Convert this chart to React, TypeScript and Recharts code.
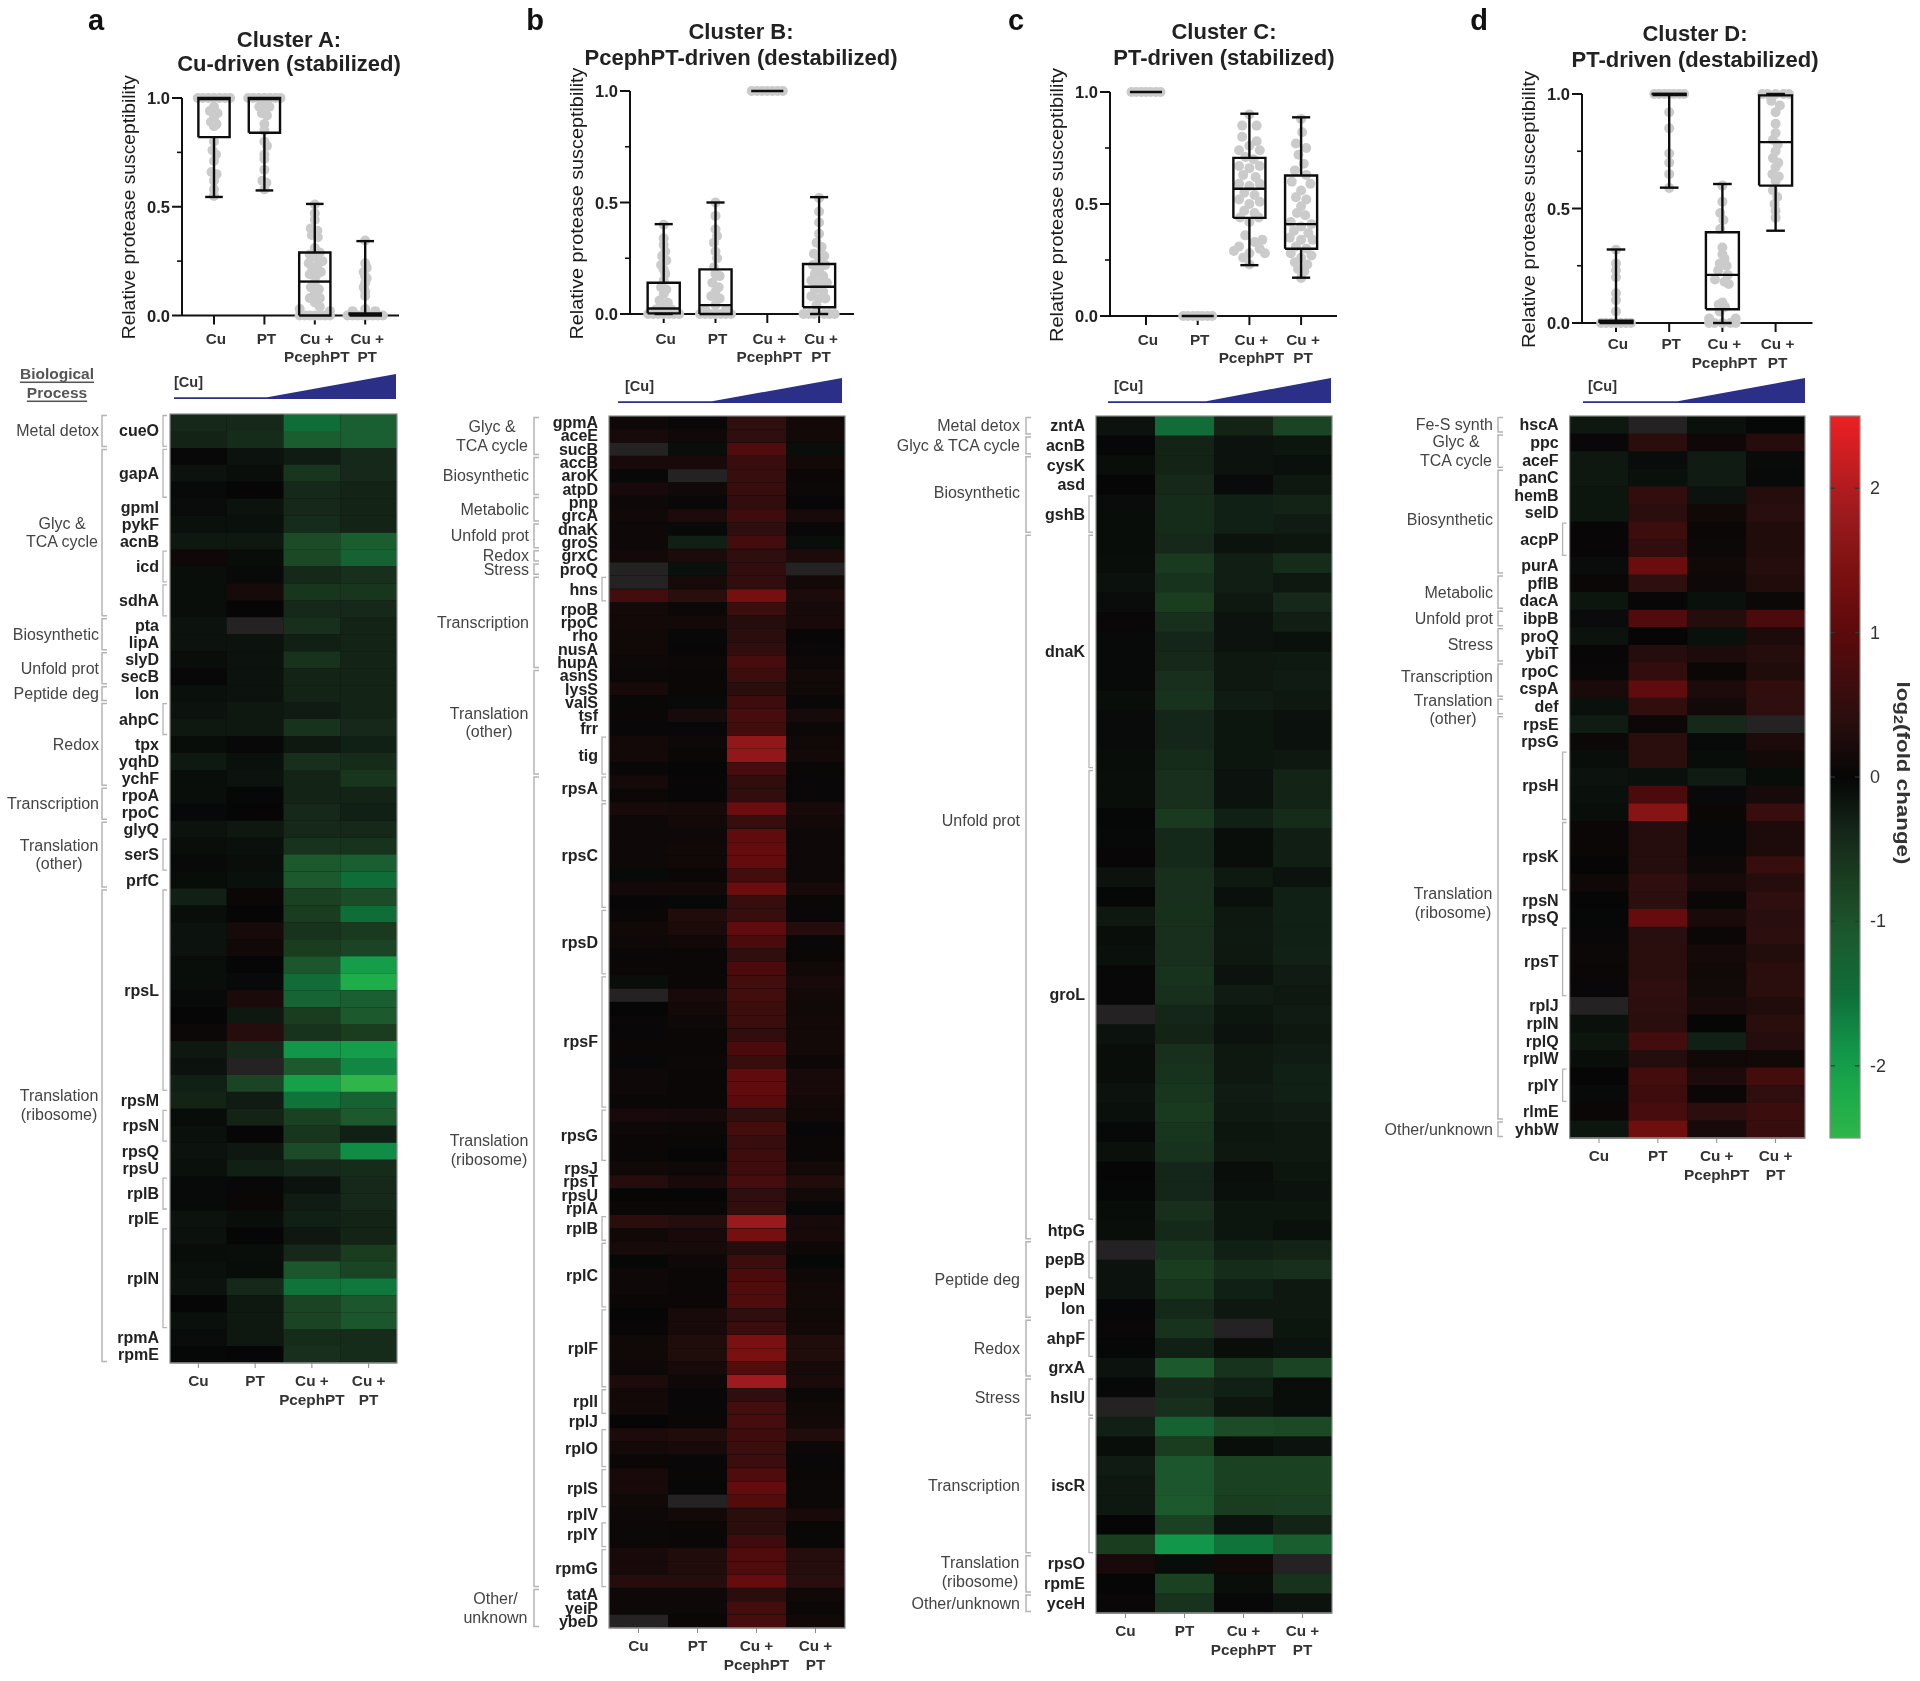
/** Four protease-susceptibility clusters: box plots above, log2 heat maps below, shared colour bar. */
import {
  Area,
  AreaChart,
  Bar,
  BarChart,
  Cell,
  Scatter,
  ScatterChart,
  XAxis,
  YAxis,
} from 'recharts';

type Group = [string, number];
type Row = [number | null, number | null, number | null, number | null];
type Box = [number, number, number, number, number]; // min, q1, median, q3, max
type Pt = [number, number]; // horizontal jitter, value

const TREATMENTS = [['Cu'], ['PT'], ['Cu +', 'PcephPT'], ['Cu +', 'PT']];

/* ---------- cluster A ---------- */
const A_GENES: Group[] = [
  ['cueO', 2], ['gapA', 3], ['gpmI', 1], ['pykF', 1], ['acnB', 1], ['icd', 2], ['sdhA', 2], ['pta', 1], ['lipA', 1],
  ['slyD', 1], ['secB', 1], ['lon', 1], ['ahpC', 2], ['tpx', 1], ['yqhD', 1], ['ychF', 1], ['rpoA', 1], ['rpoC', 1],
  ['glyQ', 1], ['serS', 2], ['prfC', 1], ['rpsL', 12], ['rpsM', 1], ['rpsN', 2], ['rpsQ', 1], ['rpsU', 1], ['rplB', 2],
  ['rplE', 1], ['rplN', 6], ['rpmA', 1], ['rpmE', 1],
];
const A_PROCESS: Group[] = [
  ['Metal detox', 2], ['Glyc &\nTCA cycle', 10], ['Biosynthetic', 2], ['Unfold prot', 2], ['Peptide deg', 1],
  ['Redox', 5], ['Transcription', 2], ['Translation\n(other)', 4], ['Translation\n(ribosome)', 28],
];
const A_VALUES: Row[] = [
  [-.4, -.4, -1.5, -1.2], [-.35, -.45, -1.15, -1.2], [-.02, -.15, -.25, -.4], [-.15, -.1, -.6, -.4],
  [-.05, 0, -.4, -.35], [-.07, -.15, -.4, -.35], [-.12, -.12, -.45, -.35], [-.2, -.2, -.9, -1.15],
  [.1, -.08, -.85, -1.25], [-.1, -.05, -.4, -.5], [-.1, .18, -.6, -.6], [-.1, 0, -.4, -.4],
  [-.15, null, -.5, -.35], [-.15, -.15, -.3, -.35], [-.1, -.15, -.55, -.35], [-.02, -.15, -.35, -.35],
  [-.12, -.15, -.35, -.35], [-.15, -.2, -.25, -.35], [-.2, -.2, -.55, -.4], [-.08, -.02, -.2, -.3],
  [-.22, -.12, -.5, -.45], [-.1, -.15, -.35, -.6], [-.1, -.01, -.35, -.35], [-.03, 0, -.4, -.3],
  [-.15, -.2, -.4, -.4], [-.1, -.12, -.55, -.55], [-.05, -.1, -1.1, -1.2], [-.08, -.12, -1.1, -1.5],
  [-.3, .05, -.75, -.9], [-.1, 0, -.7, -1.5], [-.15, .18, -.55, -.65], [-.15, .12, -.7, -.8],
  [-.1, 0, -1.05, -2], [-.1, -.05, -1.45, -2.25], [-.05, .22, -1.3, -1.2], [0, -.2, -.7, -1.1],
  [.08, .35, -.55, -.7], [-.2, -.4, -1.9, -2], [-.15, null, -1.1, -1.75], [-.3, -.8, -2.05, -2.5],
  [-.35, -.25, -1.55, -1.25], [-.08, -.35, -.75, -1.1], [-.12, 0, -.6, -.3], [-.15, -.2, -.9, -1.8],
  [-.12, -.3, -.4, -.45], [-.05, -.02, -.15, -.4], [-.05, .05, -.25, -.4], [-.15, -.1, -.3, -.35],
  [-.13, 0, -.2, -.35], [-.08, -.1, -.4, -.7], [-.12, -.08, -1.05, -.8], [-.15, -.4, -1.55, -1.6],
  [0, -.2, -.8, -1.05], [-.12, -.2, -.8, -1.05], [-.07, -.2, -.45, -.45], [-.01, 0, -.5, -.45],
];
const A_BOXES: Box[] = [
  [.545, .82, .995, 1, 1], [.575, .84, .995, 1, 1], [0, 0, .156, .29, .513], [0, 0, .005, .01, .342],
];
const A_SWARM: Pt[][] = [
  [[-.32, 1], [-.22, 1], [-.11, 1], [0, 1], [.11, 1], [.22, 1], [.32, 1], [0, .96], [-.08, .94], [.07, .93], [0, .91],
    [-.06, .89], [.05, .88], [0, .87], [0, .8], [-.03, .76], [.04, .74], [0, .71], [-.05, .66], [.05, .65], [0, .62], [0, .58], [0, .55]],
  [[-.32, 1], [-.22, 1], [-.11, 1], [0, 1], [.11, 1], [.22, 1], [.32, 1], [0, .97], [-.1, .96], [.1, .96], [-.05, .93],
    [.05, .92], [0, .88], [0, .85], [0, .8], [.05, .78], [0, .74], [0, .72], [0, .67], [-.04, .62], [.04, .61], [0, .58]],
  [[0, .51], [0, .47], [0, .44], [-.08, .4], [.05, .39], [-.06, .37], [.06, .36], [0, .31], [.1, .29], [-.1, .28], [0, .27],
    [.15, .25], [-.12, .24], [.05, .23], [-.05, .22], [.12, .2], [-.1, .19], [.02, .18], [0, .15], [-.08, .13], [.08, .12],
    [0, .1], [-.1, .08], [.1, .08], [0, .06], [-.3, .03], [.3, .02], [-.3, 0], [-.2, 0], [-.1, 0], [0, 0], [.1, 0], [.2, 0], [.3, 0], [.1, .04]],
  [[0, .345], [0, .24], [.03, .22], [-.03, .2], [0, .18], [.03, .17], [0, .15], [-.03, .13], [0, .11], [0, .09], [-.25, .02],
    [.2, .02], [0, .03], [-.35, 0], [-.25, 0], [-.15, 0], [-.05, 0], [.05, 0], [.15, 0], [.25, 0], [.35, 0]],
];

/* ---------- cluster B ---------- */
const B_GENES: Group[] = [
  ['gpmA', 1], ['aceE', 1], ['sucB', 1], ['accB', 1], ['aroK', 1], ['atpD', 1], ['pnp', 1], ['grcA', 1], ['dnaK', 1],
  ['groS', 1], ['grxC', 1], ['proQ', 1], ['hns', 2], ['rpoB', 1], ['rpoC', 1], ['rho', 1], ['nusA', 1], ['hupA', 1],
  ['asnS', 1], ['lysS', 1], ['valS', 1], ['tsf', 1], ['frr', 1], ['tig', 3], ['rpsA', 2], ['rpsC', 8], ['rpsD', 5],
  ['rpsF', 10], ['rpsG', 4], ['rpsJ', 1], ['rpsT', 1], ['rpsU', 1], ['rplA', 1], ['rplB', 2], ['rplC', 5], ['rplF', 6],
  ['rplI', 2], ['rplJ', 1], ['rplO', 3], ['rplS', 3], ['rplV', 1], ['rplY', 2], ['rpmG', 3], ['tatA', 1], ['yeiP', 1], ['ybeD', 1],
];
const B_PROCESS: Group[] = [
  ['Glyc &\nTCA cycle', 3], ['Biosynthetic', 3], ['Metabolic', 2], ['Unfold prot', 2], ['Redox', 1], ['Stress', 1],
  ['Transcription', 7], ['Translation\n(other)', 8], ['Translation\n(ribosome)', 61], ['Other/\nunknown', 3],
];
const B_VALUES: Row[] = [
  [.1, .03, .45, .15], [.2, .12, .45, .15], [null, -.1, .85, -.1], [.2, .2, .55, .15], [-.02, null, .55, .05],
  [.2, .12, .55, .08], [.1, .03, .5, .02], [.12, .25, .65, .2], [.1, -.05, .45, .03], [.1, -.3, .7, -.1],
  [.15, .25, .45, .25], [null, -.12, .5, null], [null, .18, .5, .15], [.7, .4, 1.35, .25], [.15, .08, .6, .18],
  [.15, .15, .35, .2], [.12, -.02, .4, .02], [.12, .02, .5, .03], [.1, .08, .75, .1], [.08, .07, .6, .15],
  [.2, .07, .4, .12], [.04, -.05, .65, .03], [.05, .18, .75, .18], [.03, .03, .7, .08], [.15, .1, 1.7, .12],
  [.15, .05, 1.7, .15], [.03, .01, .75, .04], [.17, .02, .5, .03], [.08, .02, .5, .03], [.2, .17, 1.2, .2],
  [.1, .15, .55, .15], [.1, .1, 1.05, .1], [.1, .12, 1.1, .1], [.1, .12, 1.1, .1], [-.05, .05, .7, .1],
  [.15, .15, 1.2, .2], [.02, -.03, .55, .04], [.05, .3, .55, .03], [.12, .22, 1.05, .35], [.1, .12, .8, .03],
  [.03, .05, .45, .05], [.05, .06, .8, .12], [-.1, .05, .7, .2], [null, .2, .7, .15], [0, .15, .6, .12],
  [.03, .1, .6, .15], [.03, .07, .5, .15], [.05, .05, .8, .15], [-.02, .08, .55, .08], [.1, .05, 1.05, .2],
  [.1, .05, 1.05, .2], [.07, .06, .95, .15], [.2, .17, .45, .12], [.1, .08, .7, .02], [.05, .04, .55, .07],
  [.05, 0, .65, .07], [.12, .1, .65, .15], [.35, .2, .75, .3], [0, 0, .45, .13], [.05, .04, .5, -.02],
  [.4, .35, 1.8, .2], [.12, .2, 1.35, .2], [.18, .18, .35, .1], [-.01, .1, .6, -.01], [.1, .07, .8, .1],
  [.1, .07, .85, .15], [.05, .07, .85, .15], [0, .2, .45, .12], [.02, .2, .6, .15], [.12, .3, 1.4, .3],
  [.12, .3, 1.4, .3], [.1, .2, .9, .18], [.25, .1, 1.85, .22], [.15, .03, .45, .08], [.15, .03, .7, .12],
  [0, .05, .75, .15], [.25, .3, .65, .3], [.15, .2, .6, .08], [.05, .03, .6, .03], [.2, .04, .85, .05],
  [.2, -.01, 1.1, .08], [.12, null, .9, .08], [.1, .15, .4, .2], [.08, .05, .4, .04], [.08, .05, .65, .04],
  [.2, .3, .85, .35], [.2, .3, .85, .35], [.35, .35, 1.15, .38], [.1, .1, .4, .12], [.1, .1, .7, .08], [null, .05, .75, .12],
];
const B_BOXES: Box[] = [
  [0, .003, .025, .14, .403], [0, 0, .04, .2, .5], [1, 1, 1, 1, 1], [0, .03, .122, .224, .524],
];
const B_SWARM: Pt[][] = [
  [[-.3, 0], [-.2, 0], [-.1, 0], [0, 0], [.1, 0], [.2, 0], [.3, 0], [0, .4], [0, .34], [0, .31], [.03, .28], [-.03, .26], [.05, .24],
    [-.05, .22], [0, .2], [.03, .18], [0, .15], [-.05, .12], [.05, .11], [0, .09], [-.08, .06], [.08, .05], [0, .03], [-.15, .02], [.15, .02]],
  [[-.3, 0], [-.2, 0], [-.1, 0], [0, 0], [.1, 0], [.2, 0], [.3, 0], [0, .5], [0, .44], [0, .38], [.03, .35], [-.03, .32], [0, .28],
    [.03, .25], [-.03, .21], [0, .18], [.08, .17], [-.06, .14], [.06, .12], [0, .1], [-.08, .08], [.08, .07], [0, .04], [-.2, .02], [.2, .02]],
  [[-.3, 1], [-.2, 1], [-.1, 1], [0, 1], [.1, 1], [.2, 1], [.3, 1]],
  [[0, .52], [0, .46], [0, .41], [0, .36], [-.05, .32], [.05, .3], [-.1, .27], [.1, .26], [0, .25], [-.12, .22], [.12, .22], [0, .2],
    [-.08, .18], [.08, .17], [-.15, .15], [.15, .14], [0, .14], [-.08, .11], [.08, .1], [-.15, .08], [.12, .07], [0, .07], [-.05, .04],
    [-.3, 0], [-.2, 0], [-.1, 0], [.1, 0], [.2, 0], [.3, 0]],
];

/* ---------- cluster C ---------- */
const C_GENES: Group[] = [
  ['zntA', 1], ['acnB', 1], ['cysK', 1], ['asd', 1], ['gshB', 2], ['dnaK', 12], ['groL', 23], ['htpG', 1], ['pepB', 2],
  ['pepN', 1], ['lon', 1], ['ahpF', 2], ['grxA', 1], ['hslU', 2], ['iscR', 7], ['rpsO', 1], ['rpmE', 1], ['yceH', 1],
];
const C_PROCESS: Group[] = [
  ['Metal detox', 1], ['Glyc & TCA cycle', 1], ['Biosynthetic', 4], ['Unfold prot', 36], ['Peptide deg', 4], ['Redox', 3],
  ['Stress', 2], ['Transcription', 7], ['Translation\n(ribosome)', 2], ['Other/unknown', 1],
];
const C_VALUES: Row[] = [
  [-.15, -1.45, -.35, -.8], [-.01, -.35, -.15, -.18], [-.1, -.35, -.15, -.12], [0, -.4, -.06, -.2], [-.07, -.45, -.3, -.35],
  [-.08, -.45, -.3, -.25], [-.08, -.4, -.15, -.18], [-.1, -.65, -.28, -.45], [-.13, -.55, -.28, -.2], [-.07, -.7, -.2, -.4],
  [.03, -.5, -.15, -.28], [-.05, -.38, -.15, -.12], [-.05, -.4, -.2, -.22], [-.05, -.5, -.2, -.25], [-.1, -.55, -.25, -.2],
  [-.06, -.38, -.18, -.13], [-.06, -.38, -.18, -.13], [-.08, -.45, -.18, -.2], [-.1, -.5, -.15, -.35], [-.1, -.5, -.15, -.35],
  [-.01, -.65, -.3, -.45], [-.03, -.42, -.1, -.28], [.02, -.42, -.1, -.28], [-.15, -.5, -.22, -.15], [-.01, -.5, -.12, -.3],
  [-.2, -.52, -.2, -.3], [-.1, -.5, -.22, -.3], [-.12, -.5, -.2, -.32], [-.02, -.55, -.15, -.25], [-.02, -.5, -.25, -.2],
  [null, -.38, -.18, -.25], [-.15, -.35, -.15, -.2], [-.1, -.5, -.2, -.25], [-.1, -.55, -.2, -.3], [-.15, -.6, -.25, -.3],
  [-.12, -.65, -.22, -.25], [-.03, -.6, -.18, -.2], [-.12, -.55, -.2, -.2], [0, -.38, -.1, -.18], [-.01, -.38, -.12, -.15],
  [-.08, -.5, -.18, -.18], [-.1, -.42, -.18, -.12], [null, -.55, -.3, -.35], [-.15, -.7, -.45, -.5], [-.15, -.6, -.3, -.2],
  [-.01, -.42, -.2, -.2], [.03, -.55, null, -.18], [-.01, -.3, -.1, -.15], [-.15, -1.1, -.55, -.8], [-.03, -.4, -.3, -.1],
  [null, -.5, -.18, -.1], [-.3, -1.25, -.9, -.85], [-.1, -.7, -.1, -.15], [-.25, -1.05, -.75, -.75], [-.2, -1.05, -.75, -.75],
  [-.2, -1.1, -.7, -.72], [0, -.75, -.15, -.35], [-.7, -1.9, -1.55, -1.15], [.2, -.08, .12, null], [0, -.75, -.1, -.55], [.03, -.55, -.02, -.15],
];
const C_BOXES: Box[] = [
  [1, 1, 1, 1, 1], [0, 0, 0, 0, 0], [.227, .438, .568, .706, .903], [.171, .3, .41, .627, .887],
];
const C_SWARM: Pt[][] = [
  [[-.28, 1], [-.19, 1], [-.09, 1], [0, 1], [.09, 1], [.19, 1], [.28, 1]],
  [[-.28, 0], [-.19, 0], [-.09, 0], [0, 0], [.09, 0], [.19, 0], [.28, 0]],
  [[0, .9], [-.14, .85], [.14, .85], [-.14, .8], [.14, .78], [0, .76], [-.2, .74], [.2, .74], [-.08, .71], [.08, .7], [-.2, .67], [.2, .67],
    [0, .66], [-.12, .63], [.12, .62], [-.2, .59], [.2, .59], [0, .58], [-.1, .55], [.1, .54], [-.2, .52], [.2, .51], [0, .5], [-.1, .47],
    [.1, .46], [-.18, .44], [.18, .44], [0, .42], [-.08, .36], [.25, .34], [.1, .33], [-.2, .31], [.2, .3], [-.3, .29], [.3, .28], [0, .28], [-.12, .26], [0, .23]],
  [[0, .88], [.02, .82], [-.1, .77], [.1, .75], [-.05, .72], [.05, .68], [-.12, .65], [.1, .63], [-.18, .6], [.18, .59], [0, .56], [-.1, .53], [.1, .52],
    [0, .49], [-.08, .46], [.08, .45], [-.2, .42], [.2, .41], [0, .4], [-.14, .38], [.14, .37], [-.22, .35], [.22, .34], [0, .34], [-.1, .31], [.1, .3],
    [-.2, .28], [.2, .27], [0, .26], [-.12, .24], [.12, .23], [-.06, .21], [.06, .2], [0, .17]],
];

/* ---------- cluster D ---------- */
const D_GENES: Group[] = [
  ['hscA', 1], ['ppc', 1], ['aceF', 1], ['panC', 1], ['hemB', 1], ['selD', 1], ['acpP', 2], ['purA', 1], ['pflB', 1],
  ['dacA', 1], ['ibpB', 1], ['proQ', 1], ['ybiT', 1], ['rpoC', 1], ['cspA', 1], ['def', 1], ['rpsE', 1], ['rpsG', 1],
  ['rpsH', 4], ['rpsK', 4], ['rpsN', 1], ['rpsQ', 1], ['rpsT', 4], ['rplJ', 1], ['rplN', 1], ['rplQ', 1], ['rplW', 1],
  ['rplY', 2], ['rlmE', 1], ['yhbW', 1],
];
const D_PROCESS: Group[] = [
  ['Fe-S synth', 1], ['Glyc &\nTCA cycle', 2], ['Biosynthetic', 6], ['Metabolic', 2], ['Unfold prot', 1], ['Stress', 2],
  ['Transcription', 2], ['Translation\n(other)', 1], ['Translation\n(ribosome)', 23], ['Other/unknown', 1],
];
const D_VALUES: Row[] = [
  [-.2, null, -.12, -.01], [.03, .4, .1, .35], [-.2, -.07, -.25, -.06], [-.2, -.12, -.25, -.05], [-.18, .5, -.15, .35],
  [-.18, .4, .12, .38], [.02, .6, .05, .3], [.02, .5, .08, .3], [-.07, 1.2, .12, .35], [.06, .45, .1, .3],
  [-.18, .02, -.12, .08], [-.07, .85, .35, .8], [-.15, 0, -.12, .25], [.02, .35, .25, .35], [.03, .5, .07, .3],
  [.22, 1.05, .25, .5], [-.12, .5, .13, .45], [-.25, .08, -.4, null], [.08, .4, -.05, .25], [-.1, .4, -.08, .13],
  [-.15, -.12, -.25, -.08], [-.12, .8, -.04, .18], [-.1, 1.55, .07, .55], [.06, .35, -.02, .25], [.06, .35, -.02, .25],
  [0, .35, .1, .55], [.1, .45, .2, .35], [0, .42, .07, .45], [-.01, 1.15, .22, .38], [.03, .38, .07, .42],
  [.08, .4, .17, .32], [.05, .4, .12, .4], [.03, .45, .13, .4], [null, .42, .2, .3], [-.12, .4, .01, .4],
  [-.18, .7, -.3, .35], [-.1, .35, .12, .12], [0, .7, .25, .7], [-.05, .65, .05, .45], [.07, .75, .42, .6], [-.18, 1.25, .2, .55],
];
const D_BOXES: Box[] = [
  [0, 0, .005, .01, .321], [.591, .995, 1, 1, 1], [0, .06, .21, .396, .607], [.403, .6, .79, .994, 1],
];
const D_SWARM: Pt[][] = [
  [[-.28, 0], [-.19, 0], [-.09, 0], [0, 0], [.09, 0], [.19, 0], [.28, 0], [0, .32], [0, .26], [0, .23], [0, .2], [0, .13], [0, .1], [0, .05]],
  [[-.28, 1], [-.19, 1], [-.09, 1], [0, 1], [.09, 1], [.19, 1], [.28, 1], [0, .92], [0, .85], [0, .74], [0, .7], [0, .65], [0, .59]],
  [[0, .6], [0, .53], [-.04, .48], [.02, .45], [-.04, .41], [0, .33], [0, .3], [.04, .28], [-.05, .26], [.08, .25], [-.08, .23], [.1, .21], [-.14, .19],
    [.04, .18], [.12, .17], [0, .09], [-.07, .08], [.05, .07], [-.05, .05], [-.25, 0], [-.25, .02], [-.15, 0], [0, 0], [.15, 0], [.25, 0], [.25, .02]],
  [[-.25, 1], [-.15, 1], [0, 1], [.15, 1], [.25, 1], [-.08, .97], [.08, .95], [0, .92], [0, .87], [0, .83], [-.05, .8], [.04, .78], [0, .75], [-.05, .72],
    [.05, .7], [0, .68], [-.06, .65], [.06, .64], [0, .62], [-.05, .58], [.03, .55], [-.02, .52], [0, .49], [0, .46]],
];

/* ---------- colour bar ---------- */
const COLOR_TICKS = [-2, -1, 0, 1, 2];
const COLOR_RANGE: [number, number] = [-2.5, 2.5];
const COLOR_STOPS: [number, number[]][] = [
  [-2.5, [48, 181, 74]], [-2.2, [28, 171, 74]], [-1.9, [18, 150, 74]], [-1.5, [15, 110, 56]], [-1.1, [28, 90, 46]],
  [-.7, [26, 61, 32]], [-.4, [21, 40, 26]], [0, [6, 6, 6]], [.4, [42, 14, 14]], [1, [92, 10, 12]], [1.4, [122, 16, 16]],
  [1.8, [153, 26, 29]], [2.5, [237, 32, 36]],
];
const MISSING_COLOR = '#252223';

function heatColor(v: number | null): string {
  if (v === null) return MISSING_COLOR;
  for (let i = 1; i < COLOR_STOPS.length; i++) {
    const [hi, cHi] = COLOR_STOPS[i];
    const [lo, cLo] = COLOR_STOPS[i - 1];
    if (v <= hi) {
      const t = (v - lo) / (hi - lo);
      const c = cLo.map((ch, k) => Math.round(ch + (cHi[k] - ch) * t));
      return `rgb(${c[0]},${c[1]},${c[2]})`;
    }
  }
  return `rgb(${COLOR_STOPS[COLOR_STOPS.length - 1][1].join(',')})`;
}

/* ---------- panel layout, in page pixels ---------- */
const PANELS = [
  {
    letter: 'a', letterX: 96, title: ['Cluster A:', 'Cu-driven (stabilized)'], titleX: 289, titleY: [39, 63],
    box: { axisX: 182, right: 399, cat0: 214, step: 50.4, y1: 97.5, y0: 315, labelY: [28, 46], titleLen: 264 },
    wedge: { left: 174, right: 396, top: 374, bottom: 399, cuX: 174, knee: 0.42 },
    heat: { originX: 0, left: 170, right: 397, top: 414, bottom: 1363 },
    bracket: { process: 102, label: 99 },
    genes: A_GENES, process: A_PROCESS, values: A_VALUES, boxes: A_BOXES, swarm: A_SWARM,
    nudge: { 'Translation\n(ribosome)': -21 } as Record<string, number>,
  },
  {
    letter: 'b', letterX: 535, title: ['Cluster B:', 'PcephPT-driven (destabilized)'], titleX: 741, titleY: [31, 57],
    box: { axisX: 630, right: 854, cat0: 663.7, step: 51.8, y1: 91, y0: 314, labelY: [30, 48], titleLen: 272 },
    wedge: { left: 618, right: 842, top: 378, bottom: 403, cuX: 625, knee: 0.42 },
    heat: { originX: 430, left: 609, right: 845, top: 416, bottom: 1628 },
    bracket: { process: 534, label: 529 },
    genes: B_GENES, process: B_PROCESS, values: B_VALUES, boxes: B_BOXES, swarm: B_SWARM,
    nudge: { 'Translation\n(ribosome)': -32 } as Record<string, number>,
  },
  {
    letter: 'c', letterX: 1016, title: ['Cluster C:', 'PT-driven (stabilized)'], titleX: 1224, titleY: [31, 57],
    box: { axisX: 1110, right: 1337, cat0: 1146, step: 51.7, y1: 92, y0: 316, labelY: [29, 47], titleLen: 274 },
    wedge: { left: 1108, right: 1331, top: 378, bottom: 403, cuX: 1114, knee: 0.44 },
    heat: { originX: 880, left: 1096, right: 1332, top: 416, bottom: 1613 },
    bracket: { process: 1026, label: 1020 },
    genes: C_GENES, process: C_PROCESS, values: C_VALUES, boxes: C_BOXES, swarm: C_SWARM,
    nudge: { 'Unfold prot': -66, Biosynthetic: -2, 'Translation\n(ribosome)': -2 } as Record<string, number>,
  },
  {
    letter: 'd', letterX: 1479, title: ['Cluster D:', 'PT-driven (destabilized)'], titleX: 1695, titleY: [33, 59],
    box: { axisX: 1582, right: 1812.5, cat0: 1616, step: 53.2, y1: 94, y0: 323, labelY: [26, 45], titleLen: 277 },
    wedge: { left: 1583, right: 1805, top: 378, bottom: 403, cuX: 1588, knee: 0.426 },
    heat: { originX: 1370, left: 1569.6, right: 1805, top: 416, bottom: 1138 },
    bracket: { process: 1498, label: 1493 },
    genes: D_GENES, process: D_PROCESS, values: D_VALUES, boxes: D_BOXES, swarm: D_SWARM,
    nudge: { 'Translation\n(ribosome)': -15, Transcription: -4, 'Translation\n(other)': 3, Biosynthetic: -2 } as Record<string, number>,
  },
];
type Panel = (typeof PANELS)[number];

const BLOCK_WIDTH: Record<string, number> = {
  'Glyc &\nTCA cycle': 74,
  'Translation\n(other)': 80,
  'Translation\n(ribosome)': 80,
  'Other/\nunknown': 67,
};
const CU_X = [0, 1];
const CU_LEVEL = [0.07, 1];
const BAR = { left: 1830, right: 1860, top: 416, bottom: 1138 };
const FONT = '"Liberation Sans", Arial, sans-serif';
const GRAY = '#b4b4b4';
const HEAT_PAD = 10;

function startsOf(groups: Group[]) {
  const map: Record<number, { label: string; count: number }> = {};
  let at = 0;
  for (const [label, count] of groups) {
    map[at] = { label, count };
    at += count;
  }
  return map;
}

function bracketPath(x: number, top: number, bottom: number, arm: number) {
  return `M${x + arm},${top}H${x}V${bottom}H${x + arm}`;
}

function makeRowTick(p: Panel) {
  const rowH = (p.heat.bottom - p.heat.top) / p.values.length;
  const genes = startsOf(p.genes);
  const processes = startsOf(p.process);
  return function RowTick(props: any) {
    const { index, x, y } = props;
    const top = y - rowH / 2;
    const gene = genes[index];
    const proc = processes[index];
    const toPage = (pageX: number) => pageX - p.heat.left + x;
    return (
      <g>
        {gene && (
          <text
            x={x - 11}
            y={top + (gene.count * rowH) / 2}
            textAnchor="end"
            dominantBaseline="central"
            fontSize={16}
            fontWeight={700}
            fill="#222"
          >
            {gene.label}
          </text>
        )}
        {gene && gene.count > 1 && (
          <path
            d={bracketPath(x - 7, top + 1.5, top + gene.count * rowH - 1.5, 4)}
            fill="none"
            stroke={GRAY}
            strokeWidth={1.3}
          />
        )}
        {proc && (
          <path
            d={bracketPath(toPage(p.bracket.process), top + 1.5, top + proc.count * rowH - 1.5, 5)}
            fill="none"
            stroke={GRAY}
            strokeWidth={1.5}
          />
        )}
        {proc &&
          proc.label.split('\n').map((line, i, lines) => {
            const center = top + (proc.count * rowH) / 2 + (p.nudge[proc.label] ?? 0);
            const block = BLOCK_WIDTH[proc.label];
            return (
              <text
                key={line}
                x={block ? toPage(p.bracket.label) - block / 2 : toPage(p.bracket.label)}
                y={center + (i - (lines.length - 1) / 2) * 18.5}
                textAnchor={block ? 'middle' : 'end'}
                dominantBaseline="central"
                fontSize={16}
                fill="#444"
              >
                {line}
              </text>
            );
          })}
      </g>
    );
  };
}

function TreatmentTick({ x, y, payload, gap, first, dx = 0 }: any) {
  const lines = TREATMENTS[payload.index ?? Math.floor(payload.value)];
  return (
    <g>
      {lines.map((line, i) => (
        <text key={line} x={x + dx} y={y + first + i * gap} textAnchor="middle" fontSize={15.3} fontWeight={700} fill="#333">
          {line}
        </text>
      ))}
    </g>
  );
}

function Heatmap({ p }: { p: Panel }) {
  const { originX, left, right, top, bottom } = p.heat;
  const rows = p.values.map((v, i) => ({ row: i, w0: 1, w1: 1, w2: 1, w3: 1, v }));
  const axisW = left - originX;
  const RowTick = makeRowTick(p);
  return (
    <div style={{ position: 'absolute', left: originX, top: top - HEAT_PAD }}>
      {/* dark backing so the sub-pixel seams between rows stay invisible */}
      <div
        style={{
          position: 'absolute',
          left: axisW,
          top: HEAT_PAD,
          width: right - left,
          height: bottom - top,
          background: '#0a0a0a',
        }}
      />
      <BarChart
        width={right - originX + 8}
        height={bottom - top + 52 + HEAT_PAD}
        data={rows}
        layout="vertical"
        barCategoryGap={0}
        margin={{ top: HEAT_PAD, right: 8, bottom: 0, left: 0 }}
      >
        <XAxis
          type="number"
          domain={[0, 4]}
          ticks={[0.5, 1.5, 2.5, 3.5]}
          interval={0}
          height={52}
          stroke="#8a8a8a"
          tickSize={5}
          tickMargin={0}
          tick={<TreatmentTick gap={19} first={18} />}
        />
        <YAxis
          type="category"
          dataKey="row"
          width={axisW}
          interval={0}
          axisLine={false}
          tickLine={false}
          tickSize={0}
          tickMargin={0}
          tick={RowTick}
        />
        {[0, 1, 2, 3].map((col) => (
          <Bar key={col} dataKey={`w${col}`} stackId="cells" isAnimationActive={false}>
            {rows.map((r) => (
              <Cell key={r.row} fill={heatColor(r.v[col])} />
            ))}
          </Bar>
        ))}
      </BarChart>
    </div>
  );
}

function ValueTick({ x, y, payload }: any) {
  const v = payload.value;
  const major = v === 0 || v === 0.5 || v === 1;
  return (
    <g>
      <line x1={x - (major ? 10 : 5)} x2={x} y1={y} y2={y} stroke="#111" strokeWidth={major ? 2 : 1.6} />
      {major && (
        <text x={x - 12} y={y} textAnchor="end" dominantBaseline="central" fontSize={16.5} fontWeight={700} fill="#222">
          {v.toFixed(1)}
        </text>
      )}
    </g>
  );
}

const dot = (props: any) => <circle cx={props.cx} cy={props.cy} r={5} fill="#cbcbcb" />;
const noDot = () => <g />;

/** Outline pieces of one box: frame, median, whiskers and caps, each a polyline in data units. */
function boxPieces([min, q1, med, q3, max]: Box, c: number) {
  const HALF = 0.31;
  const CAP = 0.175;
  const seg = (x1: number, y1: number, x2: number, y2: number) => [{ x: x1, y: y1 }, { x: x2, y: y2 }];
  const pieces = [seg(c - HALF, med, c + HALF, med)];
  if (q3 > q1) {
    pieces.push([
      { x: c - HALF, y: q1 },
      { x: c + HALF, y: q1 },
      { x: c + HALF, y: q3 },
      { x: c - HALF, y: q3 },
      { x: c - HALF, y: q1 },
    ]);
  }
  if (max > q3) pieces.push(seg(c, q3, c, max), seg(c - CAP, max, c + CAP, max));
  if (min < q1) pieces.push(seg(c, min, c, q1), seg(c - CAP, min, c + CAP, min));
  return pieces;
}

function BoxPlot({ p }: { p: Panel }) {
  const { axisX, right, cat0, step, y1, y0, labelY } = p.box;
  const axisW = 40;
  const topPad = 12;
  const domainX = [(axisX - cat0) / step, (right - cat0) / step];
  const points = p.swarm.flatMap((pts, cat) => pts.map(([dx, y]) => ({ x: cat + dx, y })));
  const pieces = p.boxes.flatMap((b, c) => boxPieces(b, c));
  return (
    <div style={{ position: 'absolute', left: axisX - axisW, top: y1 - topPad }}>
      <ScatterChart
        width={right - axisX + axisW + 6}
        height={y0 - y1 + topPad + 60}
        margin={{ top: topPad, right: 6, bottom: 0, left: 0 }}
      >
        <XAxis
          type="number"
          dataKey="x"
          domain={domainX}
          ticks={[0, 1, 2, 3]}
          interval={0}
          height={60}
          stroke="#111"
          strokeWidth={2}
          tickSize={9}
          tickMargin={0}
          tick={<TreatmentTick gap={labelY[1] - labelY[0]} first={labelY[0] - 9} dx={2} />}
        />
        <YAxis
          type="number"
          dataKey="y"
          domain={[0, 1]}
          ticks={[0, 0.25, 0.5, 0.75, 1]}
          interval={0}
          width={axisW}
          stroke="#111"
          strokeWidth={2}
          tickLine={false}
          tickSize={0}
          tickMargin={0}
          tick={<ValueTick />}
        />
        <Scatter data={points} shape={dot} isAnimationActive={false} />
        {pieces.map((data, i) => (
          <Scatter
            key={i}
            data={data}
            shape={noDot}
            line={{ stroke: '#0d0d0d', strokeWidth: 2.4 }}
            isAnimationActive={false}
          />
        ))}
      </ScatterChart>
    </div>
  );
}

function Wedge({ p }: { p: Panel }) {
  const { left, right, top, bottom, knee } = p.wedge;
  const data = [
    { x: CU_X[0], y: CU_LEVEL[0] },
    { x: knee, y: CU_LEVEL[0] },
    { x: CU_X[1], y: CU_LEVEL[1] },
  ];
  return (
    <div style={{ position: 'absolute', left, top }}>
      <AreaChart width={right - left} height={bottom - top} data={data} margin={{ top: 0, right: 0, bottom: 0, left: 0 }}>
        <XAxis type="number" dataKey="x" domain={[0, 1]} hide />
        <YAxis type="number" domain={[0, 1]} hide />
        <Area type="linear" dataKey="y" stroke="none" fill="#2b2f87" fillOpacity={1} isAnimationActive={false} dot={false} />
      </AreaChart>
    </div>
  );
}

function ColorTick({ x, y, payload }: any) {
  const w = BAR.right - BAR.left;
  return (
    <g>
      <line x1={x - w} x2={x - w + 5} y1={y} y2={y} stroke="#333" strokeWidth={1.2} />
      <line x1={x - 5} x2={x} y1={y} y2={y} stroke="#333" strokeWidth={1.2} />
      <text x={x + 10} y={y} dominantBaseline="central" fontSize={18} fill="#333">
        {payload.value}
      </text>
    </g>
  );
}

function ColorBar() {
  const [lo, hi] = COLOR_RANGE;
  const data = [
    { x: 0, y: hi },
    { x: 1, y: hi },
  ];
  return (
    <div style={{ position: 'absolute', left: BAR.left, top: BAR.top }}>
      <AreaChart
        width={BAR.right - BAR.left + 40}
        height={BAR.bottom - BAR.top}
        data={data}
        margin={{ top: 0, right: 0, bottom: 0, left: 0 }}
      >
        <defs>
          <linearGradient id="cbar" x1="0" y1="0" x2="0" y2="1">
            {[...COLOR_STOPS].reverse().map(([v, c]) => (
              <stop key={v} offset={(hi - v) / (hi - lo)} stopColor={`rgb(${c.join(',')})`} />
            ))}
          </linearGradient>
        </defs>
        <XAxis type="number" dataKey="x" domain={[0, 1]} hide />
        <YAxis
          type="number"
          orientation="right"
          domain={COLOR_RANGE}
          ticks={COLOR_TICKS}
          interval={0}
          width={40}
          axisLine={false}
          tickLine={false}
          tickSize={0}
          tickMargin={0}
          tick={<ColorTick />}
        />
        <Area type="linear" dataKey="y" baseValue={lo} stroke="none" fill="url(#cbar)" fillOpacity={1} isAnimationActive={false} dot={false} />
      </AreaChart>
    </div>
  );
}

function Overlay() {
  return (
    <svg width={1920} height={1681} style={{ position: 'absolute', left: 0, top: 0, pointerEvents: 'none' }}>
      {PANELS.map((p) => (
        <g key={p.letter}>
          <text x={p.letterX} y={20} textAnchor="middle" dominantBaseline="central" fontSize={29} fontWeight={700} fill="#111">
            {p.letter}
          </text>
          {p.title.map((t, i) => (
            <text key={t} x={p.titleX} y={p.titleY[i]} textAnchor="middle" dominantBaseline="central" fontSize={22} fontWeight={700} fill="#222">
              {t}
            </text>
          ))}
          <text
            transform={`translate(${p.box.axisX - 53} ${(p.box.y0 + p.box.y1) / 2 + 1}) rotate(-90)`}
            textAnchor="middle"
            dominantBaseline="central"
            fontSize={18}
            fill="#1c1c1c"
            textLength={p.box.titleLen}
            lengthAdjust="spacingAndGlyphs"
          >
            Relative protease susceptibility
          </text>
          <text x={p.wedge.cuX} y={p.wedge.top + 8} dominantBaseline="central" fontSize={14.5} fontWeight={700} fill="#333">
            [Cu]
          </text>
          <rect
            x={p.heat.left}
            y={p.heat.top}
            width={p.heat.right - p.heat.left}
            height={p.heat.bottom - p.heat.top}
            fill="none"
            stroke="#8a8a8a"
            strokeWidth={1.2}
          />
        </g>
      ))}
      <text x={57} y={373} textAnchor="middle" dominantBaseline="central" fontSize={15.5} fontWeight={700} fill="#555" textDecoration="underline">
        Biological
      </text>
      <text x={57} y={392} textAnchor="middle" dominantBaseline="central" fontSize={15.5} fontWeight={700} fill="#555" textDecoration="underline">
        Process
      </text>
      <rect x={BAR.left} y={BAR.top} width={BAR.right - BAR.left} height={BAR.bottom - BAR.top} fill="none" stroke="#8a8a8a" strokeWidth={1.2} />
      <text
        transform="translate(1903 773) rotate(90)"
        textAnchor="middle"
        dominantBaseline="central"
        fontSize={18}
        fontWeight={700}
        fill="#333"
        textLength={183}
        lengthAdjust="spacingAndGlyphs"
      >
        log<tspan fontSize={13} dy={4}>2</tspan>
        <tspan dy={-4}>(fold change)</tspan>
      </text>
    </svg>
  );
}

export default function App() {
  return (
    <div
      style={{
        position: 'absolute',
        left: 0,
        top: 0,
        width: 1920,
        height: 1681,
        background: '#fff',
        fontFamily: FONT,
        overflow: 'hidden',
        filter: 'blur(0.5px)',
      }}
    >
      {PANELS.map((p) => (
        <div key={p.letter}>
          <BoxPlot p={p} />
          <Wedge p={p} />
          <Heatmap p={p} />
        </div>
      ))}
      <ColorBar />
      <Overlay />
    </div>
  );
}
